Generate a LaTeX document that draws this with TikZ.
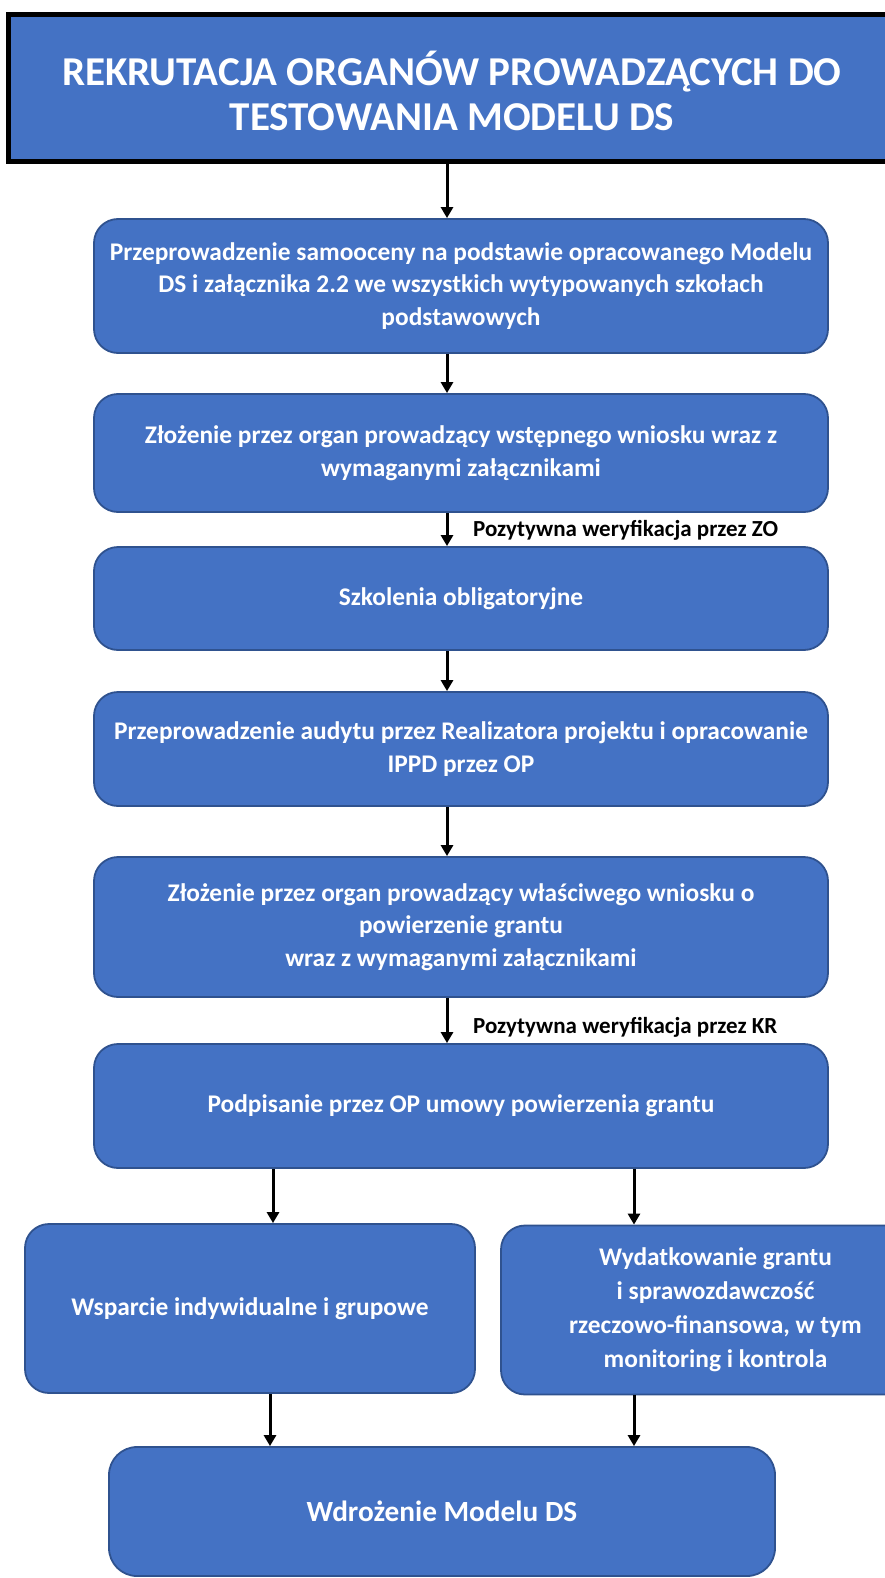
\documentclass[tikz,border=0pt]{standalone}
\usepackage{fontspec}
\setmainfont{Carlito}
\usetikzlibrary{arrows.meta}
\definecolor{boxfill}{HTML}{4472C4}
\definecolor{boxline}{HTML}{2F528F}
\begin{document}
\begin{tikzpicture}[x=1pt,y=-1pt,
  stepbox/.style={draw=boxline, line width=1.8pt, fill=boxfill, rounded corners=24pt,
    text=white, align=center, inner sep=0pt,
    font=\bfseries\fontsize{25.4}{32.5}\selectfont},
  titlebox/.style={draw=black, line width=5pt, fill=boxfill, text=white, inner sep=0pt,
    font=\bfseries\fontsize{41}{45}\selectfont},
  arr/.style={draw=black, line width=3pt, -{Triangle[length=11pt,width=12pt]}},
  lbl/.style={anchor=west, inner sep=0pt, text=black, font=\bfseries\fontsize{23}{26}\selectfont}]
\useasboundingbox (0,0) rectangle (885,1578);
\fill[white] (0,0) rectangle (885,1578);

\node[titlebox, minimum width=888pt, minimum height=147pt] (title) at (452,88)
  {\parbox{850pt}{\centering\vspace*{6pt}REKRUTACJA ORGANÓW PROWADZĄCYCH DO\\TESTOWANIA MODELU DS}\hspace{8pt}};

\node[stepbox, minimum width=734pt, minimum height=134pt] (b2) at (461,286)
  {Przeprowadzenie samooceny na podstawie opracowanego Modelu\\DS i załącznika 2.2 we wszystkich wytypowanych szkołach\\podstawowych};
\node[stepbox, minimum width=734pt, minimum height=118pt] (b3) at (461,453)
  {Złożenie przez organ prowadzący wstępnego wniosku wraz z\\wymaganymi załącznikami};
\node[stepbox, minimum width=734pt, minimum height=103pt] (b4) at (461,598.5)
  {Szkolenia obligatoryjne};
\node[stepbox, minimum width=734pt, minimum height=114pt] (b5) at (461,749)
  {Przeprowadzenie audytu przez Realizatora projektu i opracowanie\\IPPD przez OP};
\node[stepbox, minimum width=734pt, minimum height=140pt] (b6) at (461,927)
  {Złożenie przez organ prowadzący właściwego wniosku o\\powierzenie grantu\\wraz z wymaganymi załącznikami};
\node[stepbox, minimum width=734pt, minimum height=124pt] (b7) at (461,1106)
  {Podpisanie przez OP umowy powierzenia grantu};
\node[stepbox, minimum width=450pt, minimum height=169pt] (b8) at (250,1308.5)
  {Wsparcie indywidualne i grupowe};
\node[stepbox, minimum width=429pt, minimum height=169pt,
  font=\bfseries\fontsize{25.4}{34}\selectfont] (b9) at (715.5,1310)
  {Wydatkowanie grantu\\i sprawozdawczość\\rzeczowo-finansowa, w tym\\monitoring i kontrola};
\node[stepbox, minimum width=666pt, minimum height=129pt, rounded corners=28pt,
  font=\bfseries\fontsize{29.3}{34}\selectfont] (b10) at (442,1511.5)
  {Wdrożenie Modelu DS};

\coordinate (cx) at (447,0);
\coordinate (lx) at (273,0);
\coordinate (rx) at (634,0);
\coordinate (llx) at (270,0);

\draw[arr] (title.south -| cx) -- (b2.north -| cx);
\draw[arr] (b2.south -| cx) -- (b3.north -| cx);
\draw[arr] (b3.south -| cx) -- (b4.north -| cx);
\draw[arr] (b4.south -| cx) -- (b5.north -| cx);
\draw[arr] (b5.south -| cx) -- (b6.north -| cx);
\draw[arr] (b6.south -| cx) -- (b7.north -| cx);
\draw[arr] (b7.south -| lx) -- (b8.north -| lx);
\draw[arr] (b7.south -| rx) -- (b9.north -| rx);
\draw[arr] (b8.south -| llx) -- (b10.north -| llx);
\draw[arr] (b9.south -| rx) -- (b10.north -| rx);

\node[lbl] (zo) at (473,530) {Pozytywna weryfikacja przez ZO};
\node[lbl] (kr) at (473,1027) {Pozytywna weryfikacja przez KR};
\end{tikzpicture}
\end{document}
